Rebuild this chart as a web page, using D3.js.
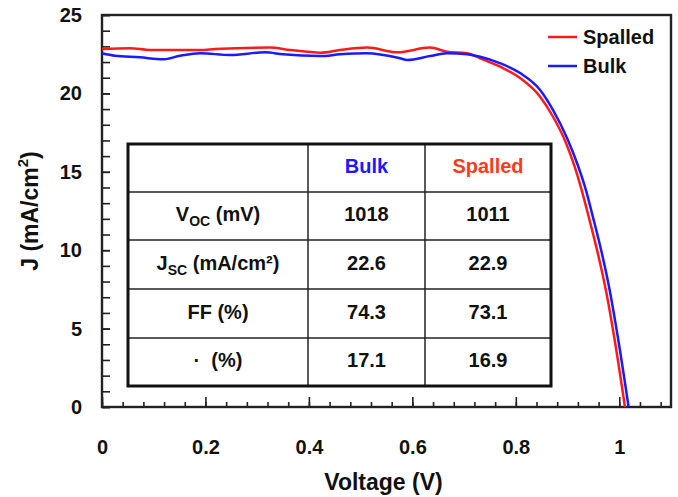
<!DOCTYPE html>
<html>
<head>
<meta charset="utf-8">
<script src="https://cdn.jsdelivr.net/npm/d3@7"></script>
<style>
  body { margin: 0; background: #fff; }
  text { font-family: "Liberation Sans", Arial, sans-serif; font-weight: bold; fill: #111; }
</style>
</head>
<body>
<script>
// J-V curves
const bulkV = [0, 0.025, 0.073, 0.118, 0.151, 0.19, 0.248, 0.315, 0.35, 0.422, 0.46, 0.513, 0.576, 0.59, 0.634, 0.667, 0.706, 0.731, 0.77, 0.809, 0.847, 0.872, 0.899, 0.919, 0.935, 0.95, 0.965, 0.98, 0.998, 1.018];
const bulkJ = [22.56, 22.40, 22.30, 22.17, 22.40, 22.56, 22.45, 22.62, 22.49, 22.38, 22.49, 22.56, 22.24, 22.13, 22.38, 22.56, 22.49, 22.34, 21.92, 21.28, 20.22, 18.94, 17.16, 15.5, 13.9, 12.0, 10.0, 7.7, 4.3, 0];

const spalledV = [0, 0.054, 0.093, 0.19, 0.219, 0.325, 0.364, 0.422, 0.46, 0.513, 0.571, 0.634, 0.667, 0.706, 0.731, 0.77, 0.809, 0.847, 0.872, 0.897, 0.912, 0.925, 0.944, 0.96, 0.975, 0.992, 1.011];
const spalledJ = [22.83, 22.88, 22.77, 22.77, 22.83, 22.92, 22.77, 22.60, 22.77, 22.92, 22.62, 22.92, 22.66, 22.56, 22.24, 21.70, 20.96, 19.79, 18.51, 16.84, 15.5, 14.1, 11.73, 9.6, 7.3, 4.1, 0];

const seriesNames = ["Spalled", "Bulk"];
const seriesColors = ["#ff1a1a", "#1a1aff"];

const xTicks = [0, 0.2, 0.4, 0.6, 0.8, 1];
const yTicks = [0, 5, 10, 15, 20, 25];

// inset table
const tableHeader = ["", "Bulk", "Spalled"];
const tableHeaderColors = ["#111", "#1a1aff", "#ff3a1a"];
const rowLabels = [["V", "OC", " (mV)"], ["J", "SC", " (mA/cm²)"], ["FF (%)", "", ""], ["·\u00a0\u00a0(%)", "", ""]];
const bulkParams = ["1018", "22.6", "74.3", "17.1"];
const spalledParams = ["1011", "22.9", "73.1", "16.9"];

const width = 678, height = 497;
const margin = { left: 102, top: 15, right: 7, bottom: 90 };

const svg = d3.select("body").append("svg")
    .attr("width", width)
    .attr("height", height);

const x = d3.scaleLinear().domain([0, 1.1]).range([margin.left, width - margin.right]);
const y = d3.scaleLinear().domain([0, 25]).range([height - margin.bottom, margin.top]);

// minor ticks
svg.append("g")
    .attr("transform", `translate(0,${y(0)})`)
    .call(d3.axisBottom(x).tickValues(d3.range(0, 1.1, 0.04)).tickSize(-5).tickFormat(""))
    .call(g => g.select(".domain").remove());
svg.append("g")
    .attr("transform", `translate(${x(0)},0)`)
    .call(d3.axisLeft(y).tickValues(d3.range(0, 26, 1)).tickSize(-8).tickFormat(""))
    .call(g => g.select(".domain").remove());

// major ticks + labels
const xAxis = svg.append("g")
    .attr("transform", `translate(0,${y(0)})`)
    .call(d3.axisBottom(x).tickValues(xTicks).tickSize(-10).tickPadding(33).tickFormat(d => d))
    .call(g => g.select(".domain").remove());
xAxis.selectAll("text").attr("font-size", 20).attr("font-family", null);

const yAxis = svg.append("g")
    .attr("transform", `translate(${x(0)},0)`)
    .call(d3.axisLeft(y).tickValues(yTicks).tickSize(-8).tickPadding(20))
    .call(g => g.select(".domain").remove());
yAxis.selectAll("text").attr("font-size", 20).attr("font-family", null);

svg.selectAll(".tick line").attr("stroke", "#222").attr("stroke-width", 1.6);

// frame
svg.append("rect")
    .attr("x", x(0)).attr("y", y(25))
    .attr("width", x(1.1) - x(0)).attr("height", y(0) - y(25))
    .attr("fill", "none").attr("stroke", "#222").attr("stroke-width", 2.4);

// curves
const line = d3.line()
    .x(d => x(d[0]))
    .y(d => y(d[1]))
    .curve(d3.curveMonotoneX);

const spalledData = spalledV.map((v, i) => [v, spalledJ[i]]);
const bulkData = bulkV.map((v, i) => [v, bulkJ[i]]);

svg.append("path").datum(spalledData)
    .attr("d", line).attr("fill", "none")
    .attr("stroke", seriesColors[0]).attr("stroke-width", 2.5);
svg.append("path").datum(bulkData)
    .attr("d", line).attr("fill", "none")
    .attr("stroke", seriesColors[1]).attr("stroke-width", 2.5);

// legend
const legend = svg.append("g").attr("transform", "translate(548,37)");
seriesNames.forEach((name, i) => {
    legend.append("line")
        .attr("x1", 0).attr("x2", 29)
        .attr("y1", i * 29).attr("y2", i * 29)
        .attr("stroke", seriesColors[i]).attr("stroke-width", 2.5);
    legend.append("text")
        .attr("x", 35).attr("y", i * 29 + 7)
        .attr("font-size", 20)
        .text(name);
});

// axis titles
svg.append("text")
    .attr("x", (x(0) + x(1.1)) / 2 - 3).attr("y", 490)
    .attr("text-anchor", "middle")
    .attr("font-size", 23)
    .text("Voltage (V)");

const yTitle = svg.append("text")
    .attr("transform", `translate(38,${(y(0) + y(25)) / 2}) rotate(-90)`)
    .attr("text-anchor", "middle")
    .attr("font-size", 23);
yTitle.append("tspan").text("J (mA/cm");
yTitle.append("tspan").attr("font-size", 15).attr("dy", -10).text("2");
yTitle.append("tspan").attr("dy", 10).text(")");

// inset table
const colX = [128, 308, 425, 551];
const rowY = [144, 192, 240, 289, 338, 386];
const table = svg.append("g");

table.selectAll("line.row")
    .data(rowY.slice(1, -1))
    .enter().append("line")
    .attr("x1", colX[0]).attr("x2", colX[3])
    .attr("y1", d => d).attr("y2", d => d)
    .attr("stroke", "#222").attr("stroke-width", 1.5);
table.selectAll("line.col")
    .data(colX.slice(1, -1))
    .enter().append("line")
    .attr("x1", d => d).attr("x2", d => d)
    .attr("y1", rowY[0]).attr("y2", rowY[5])
    .attr("stroke", "#222").attr("stroke-width", 1.5);
table.append("rect")
    .attr("x", colX[0]).attr("y", rowY[0])
    .attr("width", colX[3] - colX[0]).attr("height", rowY[5] - rowY[0])
    .attr("fill", "none").attr("stroke", "#111").attr("stroke-width", 3);

const colMid = i => (colX[i] + colX[i + 1]) / 2;
const rowMid = i => (rowY[i] + rowY[i + 1]) / 2 + 5;

tableHeader.forEach((h, i) => {
    table.append("text")
        .attr("x", colMid(i)).attr("y", rowMid(0))
        .attr("text-anchor", "middle")
        .attr("font-size", 20)
        .style("fill", tableHeaderColors[i])
        .text(h);
});

rowLabels.forEach((parts, r) => {
    const t = table.append("text")
        .attr("x", colMid(0)).attr("y", rowMid(r + 1))
        .attr("text-anchor", "middle")
        .attr("font-size", 20);
    t.append("tspan").text(parts[0]);
    if (parts[1]) {
        t.append("tspan").attr("font-size", 14).attr("dy", 5).text(parts[1]);
        t.append("tspan").attr("dy", -5).text(parts[2]);
    }
    table.append("text")
        .attr("x", colMid(1)).attr("y", rowMid(r + 1))
        .attr("text-anchor", "middle")
        .attr("font-size", 20)
        .text(bulkParams[r]);
    table.append("text")
        .attr("x", colMid(2)).attr("y", rowMid(r + 1))
        .attr("text-anchor", "middle")
        .attr("font-size", 20)
        .text(spalledParams[r]);
});
</script>
</body>
</html>
